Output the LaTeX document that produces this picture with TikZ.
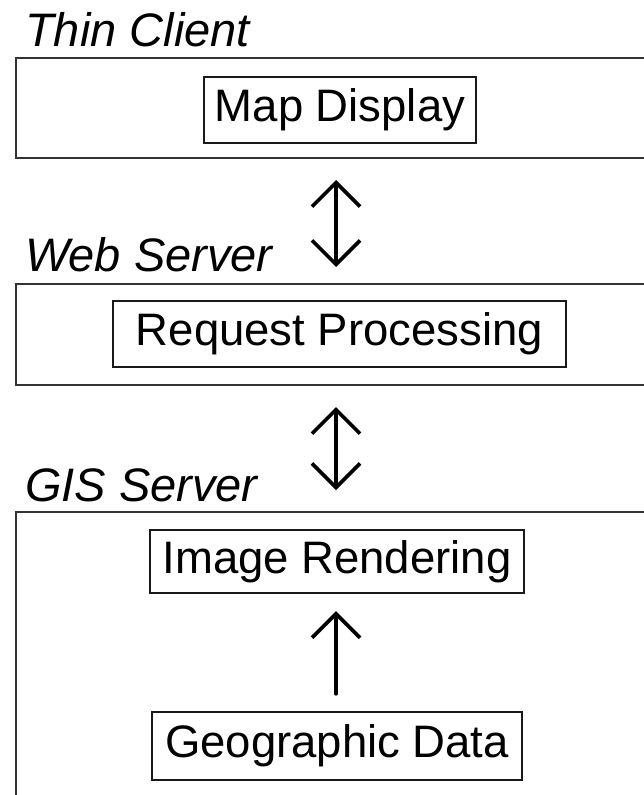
\documentclass[tikz,border=0pt]{standalone}
\usepackage{fontspec}
\setmainfont{Liberation Sans}
\usetikzlibrary{arrows.meta}
\begin{document}
\begin{tikzpicture}[x=1pt,y=-1pt,
  outerbox/.style={draw=black!80,line width=2.8pt,minimum width=644pt,inner sep=0pt},
  innerbox/.style={draw=black!90,line width=2.4pt,inner sep=0pt,font=\fontsize{45.5}{50}\selectfont},
  tierlabel/.style={anchor=base west,inner sep=0pt,font=\fontsize{47}{52}\selectfont\itshape},
  conn/.style={line width=3.6pt,line cap=round,line join=round,-{Straight Barb[length=24pt,width=48pt,line width=3.6pt]}},
  dconn/.style={line width=3.6pt,line cap=round,line join=round,{Straight Barb[length=24pt,width=48pt,line width=3.6pt]}-{Straight Barb[length=24pt,width=48pt,line width=3.6pt]}}]
\clip (0,0) rectangle (644,795);
\fill[white] (0,0) rectangle (644,795);
% outer tiers
\node[outerbox,minimum height=100pt] (tc) at (338,108) {};
\node[outerbox,minimum height=101pt] (ws) at (338,334.5) {};
\node[outerbox,minimum height=320pt] (gs) at (338,672) {};
% labels
\node[tierlabel] (tcl) at (25,46) {Thin Client};
\node[tierlabel] (wsl) at (25,271) {Web Server};
\node[tierlabel] (gsl) at (25,501) {GIS Server};
% inner boxes
\node[innerbox,minimum width=272pt,minimum height=66pt] (map) at (340,110) {Map Display};
\node[innerbox,minimum width=453pt,minimum height=66pt] (req) at (339.5,334) {Request Processing};
\node[innerbox,minimum width=374pt,minimum height=63pt] (img) at (337,561.5) {Image Rendering};
\node[innerbox,minimum width=370pt,minimum height=68pt] (geo) at (337,746) {Geographic Data};
% connectors
\coordinate (a1t) at (336,158);
\coordinate (a1b) at (336,284);
\coordinate (a2t) at (336,385);
\coordinate (a2b) at (336,512);
\draw[dconn,shorten <=22pt,shorten >=17pt] (a1t) -- (a1b);
\draw[dconn,shorten <=22pt,shorten >=22pt] (a2t) -- (a2b);
\draw[conn,shorten <=17pt,shorten >=17pt] ([xshift=-1pt]geo.north) -- ([xshift=-1pt]img.south);
\end{tikzpicture}
\end{document}
